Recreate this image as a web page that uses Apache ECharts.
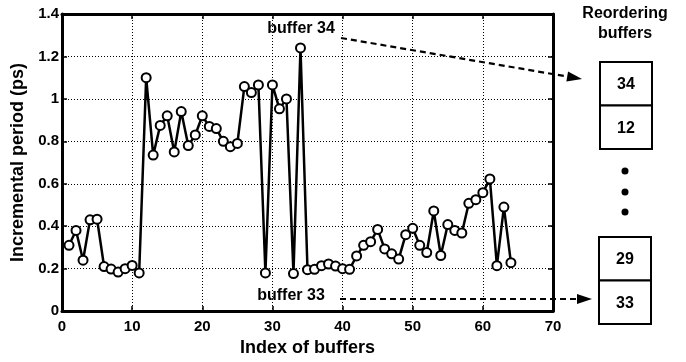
<!DOCTYPE html>
<html><head><meta charset="utf-8">
<script src="https://cdn.jsdelivr.net/npm/echarts@6/dist/echarts.min.js"></script>
<style>html,body{margin:0;padding:0;background:#fff}#c{width:686px;height:362px}</style>
</head><body><div id="c"></div>
<script>
const bufferIndex = [1,2,3,4,5,6,7,8,9,10,11,12,13,14,15,16,17,18,19,20,21,22,23,24,25,26,27,28,29,30,31,32,33,34,35,36,37,38,39,40,41,42,43,44,45,46,47,48,49,50,51,52,53,54,55,56,57,58,59,60,61,62,63,64];
const incrementalPeriod = [0.31,0.38,0.24,0.43,0.433,0.21,0.198,0.184,0.20,0.215,0.18,1.10,0.735,0.875,0.92,0.75,0.94,0.78,0.83,0.92,0.87,0.86,0.80,0.775,0.79,1.058,1.03,1.066,0.18,1.066,0.953,1.0,0.177,1.24,0.195,0.197,0.214,0.222,0.212,0.20,0.197,0.26,0.31,0.327,0.385,0.293,0.27,0.245,0.36,0.39,0.31,0.276,0.472,0.262,0.408,0.38,0.368,0.508,0.525,0.558,0.623,0.214,0.49,0.228];
const xLabel = 'Index of buffers';
const yLabel = 'Incremental period (ps)';
const topNote = 'buffer 34';
const bottomNote = 'buffer 33';
const panelTitle = ['Reordering', 'buffers'];
const topBoxes = ['34', '12'];
const bottomBoxes = ['29', '33'];

const FF = '"Liberation Sans", Arial, sans-serif';
const chart = echarts.init(document.getElementById('c'), null, {renderer: 'canvas'});

function arrow(x1, y1, x2, y2) {
  const dx = x2 - x1, dy = y2 - y1, L = Math.hypot(dx, dy);
  const ux = dx / L, uy = dy / L, hl = 15, hw = 5;
  const bx = x2 - ux * hl, by = y2 - uy * hl;
  return [
    {type: 'line', shape: {x1: x1, y1: y1, x2: bx, y2: by},
     style: {stroke: '#000', lineWidth: 2.2, lineDash: [6, 4]}},
    {type: 'polygon', shape: {points: [[x2, y2], [bx - uy * hw, by + ux * hw], [bx + uy * hw, by - ux * hw]]},
     style: {fill: '#000'}}
  ];
}
function txt(t, x, y, size) {
  return {type: 'text', style: {text: t, x: x, y: y, font: 'bold ' + size + 'px ' + FF, fill: '#000', textAlign: 'center', textVerticalAlign: 'middle'}};
}
function boxes(labels, x, y, w, h) {
  const out = [];
  labels.forEach((l, i) => {
    out.push({type: 'rect', shape: {x: x, y: y + i * h, width: w, height: h}, style: {fill: '#fff', stroke: '#000', lineWidth: 2}});
    out.push(txt(l, x + w / 2, y + i * h + h / 2 + 1, 16));
  });
  return out;
}

const graphics = [].concat(
  [txt(topNote, 301, 29, 16), txt(bottomNote, 291, 296, 16)],
  arrow(341, 38, 582, 79),
  arrow(340, 299, 592, 299),
  [txt(panelTitle[0], 625, 14, 16), txt(panelTitle[1], 625, 34, 16)],
  boxes(topBoxes, 600, 62, 52, 43.5),
  [171, 192, 212].map(y => ({type: 'circle', shape: {cx: 625, cy: y, r: 3.5}, style: {fill: '#000'}})),
  boxes(bottomBoxes, 599, 237, 52, 43.5)
);

const axisCommon = {
  axisLine: {show: true, onZero: false, lineStyle: {color: '#000', width: 3}},
  axisTick: {show: true, inside: true, length: 5, lineStyle: {color: '#000', width: 1.5}},
};

chart.setOption({
  animation: false,
  backgroundColor: '#fff',
  grid: {left: 62, right: 133, top: 14, bottom: 48.5, containLabel: false},
  xAxis: [{
    type: 'value', min: 0, max: 70, interval: 10,
    name: xLabel, nameLocation: 'middle', nameGap: 24,
    nameTextStyle: {color: '#000', fontFamily: FF, fontWeight: 'bold', fontSize: 18},
    axisLabel: {color: '#000', fontFamily: FF, fontWeight: 'bold', fontSize: 15, margin: 8},
    splitLine: {show: true, lineStyle: {color: '#000', width: 1, type: [1, 2]}},
    ...axisCommon
  }, {
    type: 'value', min: 0, max: 70, interval: 10, position: 'top',
    axisLabel: {show: false}, splitLine: {show: false}, ...axisCommon
  }],
  yAxis: [{
    type: 'value', min: 0, max: 1.4, interval: 0.2,
    name: yLabel, nameLocation: 'middle', nameGap: 31, nameRotate: 90,
    nameTextStyle: {color: '#000', fontFamily: FF, fontWeight: 'bold', fontSize: 18},
    axisLabel: {color: '#000', fontFamily: FF, fontWeight: 'bold', fontSize: 15, margin: 3,
      formatter: v => String(+v.toFixed(1))},
    splitLine: {show: true, lineStyle: {color: '#000', width: 1, type: [1, 2]}},
    ...axisCommon
  }, {
    type: 'value', min: 0, max: 1.4, interval: 0.2, position: 'right',
    axisLabel: {show: false}, splitLine: {show: false}, ...axisCommon
  }],
  series: [{
    type: 'line',
    data: bufferIndex.map((x, i) => [x, incrementalPeriod[i]]),
    symbol: 'circle', symbolSize: 9, showAllSymbol: true,
    lineStyle: {color: '#000', width: 2.5},
    itemStyle: {color: '#fff', borderColor: '#000', borderWidth: 2},
    z: 5
  }],
  graphic: graphics
});
</script></body></html>
